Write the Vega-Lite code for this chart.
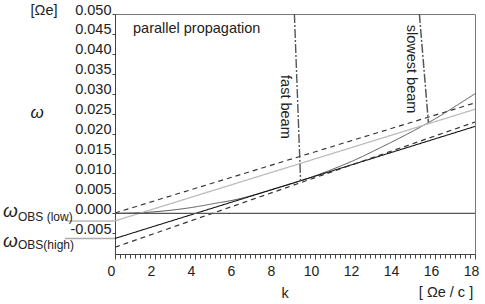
{
  "$schema": "https://vega.github.io/schema/vega-lite/v6.json",
  "width": 360,
  "height": 240,
  "autosize": {"type": "none"},
  "padding": {"left": 115, "top": 14, "right": 10, "bottom": 50},
  "config": {
    "view": {"stroke": "#777", "strokeWidth": 1},
    "font": "Liberation Sans",
    "text": {"font": "Liberation Sans", "color": "#222"},
    "axis": {"labelOverlap": false, "labelFlush": false, "grid": false}
  },
  "datasets": {
    "lines": [
      {"s": "curve", "k": 0, "w": 0.0},
      {"s": "curve", "k": 1, "w": 0.0001},
      {"s": "curve", "k": 2, "w": 0.0004},
      {"s": "curve", "k": 3, "w": 0.0009},
      {"s": "curve", "k": 4, "w": 0.0016},
      {"s": "curve", "k": 5, "w": 0.0025},
      {"s": "curve", "k": 6, "w": 0.0034},
      {"s": "curve", "k": 7, "w": 0.0047},
      {"s": "curve", "k": 8, "w": 0.0062},
      {"s": "curve", "k": 9, "w": 0.0077},
      {"s": "curve", "k": 10, "w": 0.0094},
      {"s": "curve", "k": 11, "w": 0.0113},
      {"s": "curve", "k": 12, "w": 0.0134},
      {"s": "curve", "k": 13, "w": 0.0158},
      {"s": "curve", "k": 14, "w": 0.0183},
      {"s": "curve", "k": 15, "w": 0.0209},
      {"s": "curve", "k": 16, "w": 0.0237},
      {"s": "curve", "k": 17, "w": 0.0268},
      {"s": "curve", "k": 18, "w": 0.03},
      {"s": "B", "k": 0, "w": -0.0063},
      {"s": "B", "k": 18, "w": 0.0218},
      {"s": "D1", "k": 0, "w": 0.0001},
      {"s": "D1", "k": 18, "w": 0.0277},
      {"s": "D2", "k": 0, "w": -0.0085},
      {"s": "D2", "k": 18, "w": 0.0229},
      {"s": "G", "k": 0, "w": -0.0019},
      {"s": "G", "k": 18, "w": 0.0261},
      {"s": "zero", "k": 0, "w": 0},
      {"s": "zero", "k": 18, "w": 0},
      {"s": "fast", "k": 8.97, "w": 0.05},
      {"s": "fast", "k": 9.28, "w": 0.0081},
      {"s": "slow", "k": 15.22, "w": 0.05},
      {"s": "slow", "k": 15.67, "w": 0.0228},
      {"s": "obsLow", "k": -2.4, "w": -0.0019},
      {"s": "obsLow", "k": 0, "w": -0.0019},
      {"s": "obsHigh", "k": -2.5, "w": -0.0063},
      {"s": "obsHigh", "k": 0, "w": -0.0063}
    ]
  },
  "encoding": {
    "x": {
      "field": "k", "type": "quantitative",
      "scale": {"domain": [0, 18], "nice": false, "zero": false},
      "axis": {
        "title": null, "grid": false,
        "values": [0,0.25,0.5,0.75,1,1.25,1.5,1.75,2,2.25,2.5,2.75,3,3.25,3.5,3.75,4,4.25,4.5,4.75,5,5.25,5.5,5.75,6,6.25,6.5,6.75,7,7.25,7.5,7.75,8,8.25,8.5,8.75,9,9.25,9.5,9.75,10,10.25,10.5,10.75,11,11.25,11.5,11.75,12,12.25,12.5,12.75,13,13.25,13.5,13.75,14,14.25,14.5,14.75,15,15.25,15.5,15.75,16,16.25,16.5,16.75,17,17.25,17.5,17.75,18],
        "labelExpr": "datum.value % 2 === 0 ? format(datum.value, 'd') : ''",
        "labelOverlap": false, "labelFlush": false,
        "tickSize": {"condition": {"test": "datum.value % 2 === 0", "value": 5}, "value": 4},
        "tickColor": "#444", "domainColor": "#444",
        "labelFontSize": 14, "labelColor": "#222", "labelFont": "Liberation Sans",
        "labelPadding": 5, "labelOffset": -4
      }
    },
    "y": {
      "field": "w", "type": "quantitative",
      "scale": {"domain": [-0.0102, 0.05], "nice": false, "zero": false},
      "axis": {
        "title": null, "grid": false,
        "values": [-0.005,0,0.005,0.01,0.015,0.02,0.025,0.03,0.035,0.04,0.045,0.05],
        "labelExpr": "replace(format(datum.value, '.3f'), '−', '-')",
        "labelBaseline": "alphabetic", "labelOverlap": false, "labelFlush": false,
        "tickSize": 3, "tickColor": "#444", "domainColor": "#444",
        "labelFontSize": 14.5, "labelColor": "#222", "labelFont": "Liberation Sans",
        "labelPadding": 1
      }
    }
  },
  "layer": [
    {
      "data": {"name": "lines"},
      "mark": {"type": "line", "interpolate": "monotone"},
      "encoding": {
        "color": {
          "field": "s", "type": "nominal", "legend": null,
          "scale": {
            "domain": ["curve","B","D1","D2","G","zero","fast","slow","obsLow","obsHigh"],
            "range": ["#555","#111","#333","#333","#bbb","#555","#555","#555","#bbb","#aaa"]
          }
        },
        "strokeDash": {
          "field": "s", "type": "nominal", "legend": null,
          "scale": {
            "domain": ["curve","B","D1","D2","G","zero","fast","slow","obsLow","obsHigh"],
            "range": [[1,0],[1,0],[5,4],[5,4],[1,0],[1,0],[9,2,2,2],[9,2,2,2],[1,0],[1,0]]
          }
        },
        "strokeWidth": {
          "field": "s", "type": "nominal", "legend": null,
          "scale": {
            "domain": ["curve","B","D1","D2","G","zero","fast","slow","obsLow","obsHigh"],
            "range": [1,1.6,1,1,1,1,0.8,0.8,1,2.5]
          }
        }
      }
    },
    {
      "data": {"values": [{"k": 0.9, "w": 0.04523, "t": "parallel propagation"}]},
      "mark": {"type": "text", "align": "left", "baseline": "alphabetic", "fontSize": 14.5},
      "encoding": {"text": {"field": "t"}}
    },
    {
      "data": {"values": [
        {"k": 8.5, "w": 0.0267, "t": "fast beam"},
        {"k": 14.78, "w": 0.0362, "t": "slowest beam"}
      ]},
      "mark": {"type": "text", "align": "center", "baseline": "middle", "angle": 90, "fontSize": 14.5},
      "encoding": {"text": {"field": "t"}}
    },
    {
      "data": {"values": [
        {"k": 8.5, "w": -0.02125, "t": "k"},
        {"k": 16.55, "w": -0.0209, "t": "[ Ωe / c ]"},
        {"k": -3.55, "w": 0.0497, "t": "[Ωe]"}
      ]},
      "mark": {"type": "text", "align": "center", "baseline": "alphabetic", "fontSize": 14.5},
      "encoding": {"text": {"field": "t"}}
    },
    {
      "data": {"values": [{"k": -3.9, "w": 0.0239, "t": "ω"}]},
      "mark": {"type": "text", "align": "center", "baseline": "alphabetic", "fontSize": 17, "fontStyle": "italic"},
      "encoding": {"text": {"field": "t"}}
    },
    {
      "data": {"values": [
        {"k": -5.6, "w": -0.00085, "t": "ω"},
        {"k": -5.6, "w": -0.0084, "t": "ω"}
      ]},
      "mark": {"type": "text", "align": "left", "baseline": "alphabetic", "fontSize": 19, "fontStyle": "italic"},
      "encoding": {"text": {"field": "t"}}
    },
    {
      "data": {"values": [
        {"k": -4.85, "w": -0.00186, "t": "OBS (low)"},
        {"k": -4.85, "w": -0.0090, "t": "OBS(high)"}
      ]},
      "mark": {"type": "text", "align": "left", "baseline": "alphabetic", "fontSize": 12},
      "encoding": {"text": {"field": "t"}}
    }
  ]
}
